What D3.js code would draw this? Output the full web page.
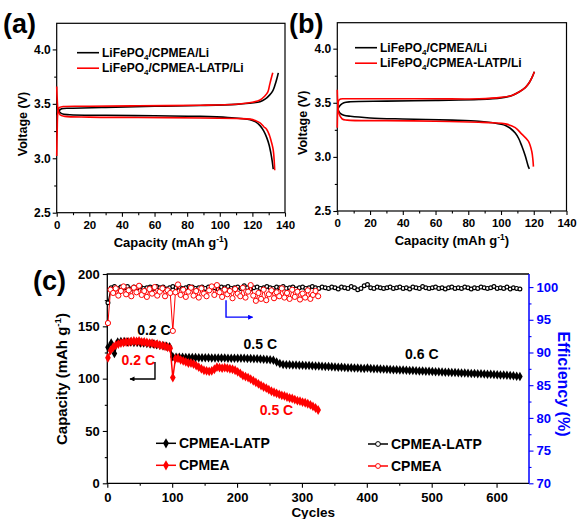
<!DOCTYPE html>
<html>
<head>
<meta charset="utf-8">
<script src="https://cdn.jsdelivr.net/npm/d3@7"></script>
<style>
body { margin: 0; background: #fff; }
svg text { font-family: "Liberation Sans", Arial, sans-serif; font-weight: bold; }
</style>
</head>
<body>
<div id="chart"></div>
<script>
// ---- panel (a): charge / discharge curves, [capacity, voltage]
const aBlackCharge = [[0,3.40],[1,3.43],[3,3.455],[10,3.46],[30,3.468],[60,3.478],[88,3.485],[110,3.495],[118,3.505],[124.7,3.52],[128,3.545],[130.5,3.58],[132.5,3.62],[133.8,3.67],[135,3.73],[135.9,3.785]];
const aRedCharge = [[0,3.02],[0.3,3.25],[0.7,3.42],[1.5,3.465],[4,3.475],[20,3.478],[50,3.482],[88,3.487],[110,3.497],[120,3.515],[124.7,3.536],[127.5,3.57],[129.5,3.61],[130.5,3.67],[131.5,3.73],[132.5,3.785]];
const aBlackDischarge = [[0,3.48],[1,3.44],[3,3.41],[8,3.40],[30,3.395],[60,3.39],[88,3.385],[105,3.375],[118.6,3.355],[122,3.335],[124.7,3.30],[127,3.25],[128.8,3.19],[130.3,3.12],[131.3,3.05],[132.2,2.97],[132.8,2.90]];
const aRedDischarge = [[0,3.66],[0.3,3.55],[0.8,3.45],[2,3.40],[5,3.385],[20,3.378],[50,3.375],[88,3.37],[110,3.365],[118.6,3.36],[122,3.345],[124.7,3.325],[127,3.29],[128.8,3.265],[130.5,3.21],[131.3,3.17],[132.5,3.10],[133,3.05],[133.4,2.97],[133.7,2.89]];

// ---- panel (b)
const bBlackCharge = [[0.3,3.44],[1,3.46],[2,3.48],[4,3.50],[8,3.509],[30,3.515],[60,3.522],[86.5,3.53],[100,3.545],[106.7,3.568],[111,3.60],[114.8,3.64],[117,3.68],[118.8,3.73],[120.4,3.787]];
const bRedCharge = [[0,3.27],[0.3,3.45],[0.8,3.52],[2,3.535],[5,3.537],[30,3.537],[60,3.537],[86.5,3.537],[100,3.55],[106.7,3.568],[111,3.60],[114.8,3.64],[117,3.68],[118.8,3.73],[120.4,3.787]];
const bBlackDischarge = [[0.3,3.44],[1,3.42],[2,3.40],[4,3.385],[8,3.375],[20,3.36],[40,3.35],[70,3.34],[86.5,3.33],[95,3.315],[102.7,3.29],[106,3.26],[108.7,3.22],[110.8,3.17],[112.7,3.10],[114.8,3.01],[116.7,2.91],[117.3,2.89]];
const bRedDischarge = [[0,3.62],[0.3,3.50],[1,3.40],[3,3.35],[6,3.34],[30,3.335],[60,3.33],[86.5,3.32],[95,3.315],[102.7,3.305],[108.7,3.27],[112.7,3.21],[116.7,3.145],[118.8,3.05],[119.5,2.97],[119.8,2.91]];

// ---- panel (c): cycling, values every capStep / effStep cycles starting at cycle 1
const latpCapStep = 5;
const latpCapacity = [
  130.0,134.0,124.0,135.0,135.5,135.5,135.0,135.0,134.5,134.5,
  134.0,134.0,133.5,133.0,133.0,132.5,132.0,131.5,131.0,130.5,
  121.0,120.5,120.5,120.5,120.3,120.3,120.2,120.2,120.0,120.0,
  120.0,120.0,119.8,119.8,119.8,119.7,119.7,119.6,119.6,119.5,
  119.5,119.4,119.4,119.3,119.2,119.1,119.0,118.8,118.6,118.4,
  118.0,117.5,116.0,114.5,113.5,113.3,113.2,113.1,113.0,112.9,
  112.8,112.6,112.5,112.3,112.2,112.0,111.8,111.7,111.5,111.3,
  111.2,111.0,110.9,110.7,110.5,110.4,110.2,110.1,109.9,109.8,
  110.2,109.7,109.5,109.4,109.2,109.1,108.9,108.8,108.6,108.5,
  108.3,108.2,108.0,107.9,107.7,107.6,107.4,107.3,107.1,107.0,
  106.8,106.7,106.5,106.4,106.2,106.1,105.9,105.8,105.6,105.5,
  105.3,105.2,105.0,104.9,104.7,104.6,104.4,104.3,104.1,104.0,
  103.8,103.6,103.4,103.2,103.0,102.7,102.4,102.1
];
const cpmeaCapStep = 4;
const cpmeaCapacity = [
  120.0,127.0,130.0,132.0,133.0,134.0,134.5,135.0,135.0,135.5,
  136.0,135.5,136.0,135.0,135.0,134.5,134.0,134.0,133.0,133.0,
  132.0,131.5,131.0,130.0,129.0,101.0,119.0,119.5,118.0,117.0,
  116.0,115.0,115.0,114.0,112.5,111.0,109.5,108.0,107.5,107.0,
  107.5,109.0,111.0,110.5,110.0,110.5,110.0,109.5,109.0,108.0,
  106.5,105.0,103.0,102.0,101.0,99.5,98.0,96.5,95.0,93.5,
  92.0,91.0,89.5,88.0,87.0,86.0,85.0,84.0,83.5,82.5,
  81.5,81.0,80.0,79.0,78.5,77.5,77.0,76.0,75.0,73.5,
  72.0,70.0
];
const latpEffStep = 5;
const latpEfficiency = [
  97.6,99.9,100.1,99.8,100.0,99.9,100.1,99.7,100.0,99.9,
  100.1,99.8,99.9,100.0,99.8,100.1,99.9,100.0,99.7,99.9,
  100.1,99.9,100.0,99.8,99.9,100.1,100.0,99.8,99.9,100.0,
  99.8,100.0,100.1,99.9,99.7,100.0,99.9,100.1,99.8,99.9,
  100.0,99.8,100.2,99.9,99.7,99.9,100.0,99.8,99.9,100.1,
  99.9,99.8,100.0,99.9,100.1,99.8,99.9,100.0,99.7,99.9,
  100.0,99.8,99.9,100.1,99.9,99.8,100.0,99.9,99.8,100.0,
  99.9,99.7,100.0,99.9,99.8,100.1,99.9,99.6,99.8,100.2,
  100.4,99.9,99.8,100.0,99.9,99.8,99.9,100.0,99.8,99.9,
  100.0,99.8,99.9,99.7,100.0,99.9,99.8,100.1,99.9,99.8,
  99.9,100.0,99.8,99.9,99.7,99.9,100.0,99.8,99.9,99.8,
  100.0,99.9,99.7,99.9,99.8,100.0,99.9,99.8,99.9,100.1,
  99.8,99.9,99.8,100.0,99.7,99.9,99.8,99.7
];
const cpmeaEffStep = 4;
const cpmeaEfficiency = [
  94.5,99.6,99.1,99.8,98.7,99.4,100.1,98.9,99.5,98.6,
  99.9,99.2,100.2,98.8,99.4,98.5,99.7,99.0,100.0,98.7,
  99.3,99.8,98.6,99.5,99.1,93.3,99.2,100.4,98.8,99.6,
  98.5,99.3,99.9,98.7,99.4,98.4,99.8,99.0,98.6,99.5,
  100.1,98.8,100.3,99.2,98.5,99.6,98.9,99.4,98.3,99.7,
  99.0,98.6,99.9,98.4,99.3,100.3,98.7,97.9,99.1,98.2,
  99.6,98.0,98.9,99.5,98.3,99.2,98.6,99.8,98.4,99.1,
  98.2,99.6,98.5,99.3,98.1,99.0,98.4,99.5,98.2,98.8,
  99.4,98.6
];

const capTicks = [0, 50, 100, 150, 200];
const effTicks = [70, 75, 80, 85, 90, 95, 100];
const cycleTicks = [0, 100, 200, 300, 400, 500, 600];
const voltTicks = [2.5, 3.0, 3.5, 4.0];
const capacityTicks = [0, 20, 40, 60, 80, 100, 120, 140];

const width = 577;
const height = 519;
const RED = '#ff0000';
const BLUE = '#0000ff';

const svg = d3.select('#chart')
    .append('svg')
    .attr('width', width)
    .attr('height', height);

svg.append('rect').attr('width', width).attr('height', height).attr('fill', '#fff');

const defs = svg.append('defs');
[['arrowK', '#000'], ['arrowB', BLUE]].forEach(([id, c]) => {
    defs.append('marker')
        .attr('id', id)
        .attr('viewBox', '0 0 10 10')
        .attr('refX', 9).attr('refY', 5)
        .attr('markerWidth', 7).attr('markerHeight', 5)
        .attr('markerUnits', 'userSpaceOnUse')
        .attr('orient', 'auto')
        .append('path')
        .attr('d', 'M0,0 L10,5 L0,10 Z')
        .attr('fill', c);
});

function styleAxis(g, size, color) {
    g.select('.domain').remove();
    g.attr('font-size', size).attr('fill', color || '#000');
    g.selectAll('line').attr('stroke', color || '#000').attr('stroke-width', 1.1);
    g.selectAll('text').attr('fill', color || '#000');
}

function addLegendText(sel, x, y, middle) {
    const t = sel.append('text').attr('x', x).attr('y', y).attr('font-size', 12);
    t.append('tspan').text('LiFePO');
    t.append('tspan').text('4').attr('font-size', 8).attr('dy', 3);
    t.append('tspan').text(middle).attr('dy', -3);
    return t;
}

function capacityLabel(sel, x, y, size, rotate) {
    const t = sel.append('text')
        .attr('text-anchor', 'middle')
        .attr('font-size', size)
        .attr('transform', `translate(${x},${y})` + (rotate ? ' rotate(-90)' : ''));
    t.append('tspan').text('Capacity (mAh g');
    t.append('tspan').text('-1').attr('font-size', size * 0.65).attr('dy', -size * 0.4);
    t.append('tspan').text(')').attr('dy', size * 0.4);
}

function voltagePanel(p) {
    const x = d3.scaleLinear().domain([0, 140]).range([p.left, p.right]);
    const y = d3.scaleLinear().domain([2.5, 4.24]).range([p.bottom, p.top]);
    const g = svg.append('g');

    g.append('g').attr('transform', `translate(0,${p.bottom})`)
        .call(d3.axisBottom(x).tickValues(d3.range(10, 140, 20)).tickSize(2.5).tickFormat(''))
        .call(a => styleAxis(a, 12));
    g.append('g').attr('transform', `translate(0,${p.bottom})`)
        .call(d3.axisBottom(x).tickValues(capacityTicks).tickSize(4).tickPadding(4))
        .call(a => styleAxis(a, 11.5));
    g.append('g').attr('transform', `translate(${p.left},0)`)
        .call(d3.axisLeft(y).tickValues([2.75, 3.25, 3.75]).tickSize(2.5).tickFormat(''))
        .call(a => styleAxis(a, 12));
    g.append('g').attr('transform', `translate(${p.left},0)`)
        .call(d3.axisLeft(y).tickValues(voltTicks).tickSize(4).tickPadding(2).tickFormat(d3.format('.1f')))
        .call(a => styleAxis(a, 12));

    g.append('rect')
        .attr('x', p.left).attr('y', p.top)
        .attr('width', p.right - p.left).attr('height', p.bottom - p.top)
        .attr('fill', 'none').attr('stroke', '#000').attr('stroke-width', 1.2);

    const line = d3.line()
        .x(d => x(d[0]))
        .y(d => y(d[1]))
        .curve(d3.curveCatmullRom.alpha(0.5));

    p.curves.forEach(c => {
        g.append('path').attr('d', line(c.data))
            .attr('fill', 'none').attr('stroke', c.color).attr('stroke-width', 1.6);
    });

    // legend
    g.append('line').attr('x1', p.legX).attr('x2', p.legX + 22).attr('y1', p.legY).attr('y2', p.legY)
        .attr('stroke', '#000').attr('stroke-width', 1.6);
    addLegendText(g, p.legX + 25, p.legY + 4, '/CPMEA/Li');
    g.append('line').attr('x1', p.legX).attr('x2', p.legX + 22).attr('y1', p.legY + 15.5).attr('y2', p.legY + 15.5)
        .attr('stroke', RED).attr('stroke-width', 1.6);
    addLegendText(g, p.legX + 25, p.legY + 19.5, '/CPMEA-LATP/Li');

    g.append('text').attr('text-anchor', 'middle').attr('font-size', 12.5)
        .attr('transform', `translate(${p.left - 30},${(p.top + p.bottom) / 2 + 6}) rotate(-90)`)
        .text('Voltage (V)');
    capacityLabel(g, (p.left + p.right) / 2, p.bottom + 34, 13, false);

    g.append('text').attr('x', p.tagX).attr('y', 33).attr('font-size', 27).text(p.tag);
}

voltagePanel({
    left: 56.7, right: 285, top: 23.3, bottom: 212.7,
    legX: 77, legY: 52.7, tag: '(a)', tagX: 3,
    curves: [
        {data: aBlackCharge, color: '#000'},
        {data: aBlackDischarge, color: '#000'},
        {data: aRedCharge, color: RED},
        {data: aRedDischarge, color: RED}
    ]
});

voltagePanel({
    left: 337.3, right: 566.5, top: 22.7, bottom: 211,
    legX: 355, legY: 47.7, tag: '(b)', tagX: 289,
    curves: [
        {data: bBlackCharge, color: '#000'},
        {data: bBlackDischarge, color: '#000'},
        {data: bRedCharge, color: RED},
        {data: bRedDischarge, color: RED}
    ]
});

// ---- panel (c)
const cL = 107.3, cR = 529, cT = 274, cB = 483.3;
const xc = d3.scaleLinear().domain([0, 650]).range([cL, cR]);
const yCap = d3.scaleLinear().domain([0, 200]).range([cB, cT]);
const yEff = d3.scaleLinear().domain([70, 102]).range([cB, cT]);

const gc = svg.append('g');

gc.append('g').attr('transform', `translate(0,${cB})`)
    .call(d3.axisBottom(xc).tickValues(d3.range(50, 650, 100)).tickSize(2.5).tickFormat(''))
    .call(a => styleAxis(a, 13));
gc.append('g').attr('transform', `translate(0,${cB})`)
    .call(d3.axisBottom(xc).tickValues(cycleTicks).tickSize(4.5).tickPadding(5))
    .call(a => styleAxis(a, 13));
gc.append('g').attr('transform', `translate(${cL},0)`)
    .call(d3.axisLeft(yCap).tickValues([25, 75, 125, 175]).tickSize(2.5).tickFormat(''))
    .call(a => styleAxis(a, 13));
gc.append('g').attr('transform', `translate(${cL},0)`)
    .call(d3.axisLeft(yCap).tickValues(capTicks).tickSize(4.5).tickPadding(3))
    .call(a => styleAxis(a, 13));
gc.append('g').attr('transform', `translate(${cR},0)`)
    .call(d3.axisRight(yEff).tickValues([72.5, 77.5, 82.5, 87.5, 92.5, 97.5]).tickSize(2.5).tickFormat(''))
    .call(a => styleAxis(a, 13, BLUE));
gc.append('g').attr('transform', `translate(${cR},0)`)
    .call(d3.axisRight(yEff).tickValues(effTicks).tickSize(4.5).tickPadding(3))
    .call(a => styleAxis(a, 13, BLUE));

// frame: black left/top/bottom, blue right
gc.append('path').attr('d', `M${cR},${cT} H${cL} V${cB} H${cR}`)
    .attr('fill', 'none').attr('stroke', '#000').attr('stroke-width', 1.3);
gc.append('line').attr('x1', cR).attr('x2', cR).attr('y1', cT).attr('y2', cB)
    .attr('stroke', BLUE).attr('stroke-width', 1.5);

function series(values, step, yScale) {
    return values.map((v, i) => ({cycle: 1 + i * step, value: v, y: yScale}));
}

const latpEff = series(latpEfficiency, latpEffStep, yEff);
const cpmeaEff = series(cpmeaEfficiency, cpmeaEffStep, yEff);
const latpCap = series(latpCapacity, latpCapStep, yCap);
const cpmeaCap = series(cpmeaCapacity, cpmeaCapStep, yCap);

const seriesLine = d3.line().x(d => xc(d.cycle)).y(d => d.y(d.value));

function drawCircles(data, color, r, lw, sw) {
    gc.append('path').attr('d', seriesLine(data))
        .attr('fill', 'none').attr('stroke', color).attr('stroke-width', lw);
    gc.append('g').selectAll('circle')
        .data(data)
        .enter()
        .append('circle')
        .attr('cx', d => xc(d.cycle))
        .attr('cy', d => d.y(d.value))
        .attr('r', r)
        .attr('fill', '#fff')
        .attr('stroke', color)
        .attr('stroke-width', sw);
}

function drawDiamonds(data, color, size) {
    gc.append('path').attr('d', seriesLine(data))
        .attr('fill', 'none').attr('stroke', color).attr('stroke-width', 1.5);
    gc.append('g').selectAll('path')
        .data(data)
        .enter()
        .append('path')
        .attr('d', d3.symbol(d3.symbolDiamond, size))
        .attr('transform', d => `translate(${xc(d.cycle)},${d.y(d.value)})`)
        .attr('fill', color);
}

drawCircles(latpEff, '#000', 1.9, 1.1, 1.2);
drawCircles(cpmeaEff, RED, 2.6, 1, 1);
drawDiamonds(latpCap, '#000', 26);
drawDiamonds(cpmeaCap, RED, 28);

// rate labels, placed in data coordinates
const rateLabels = [
    {text: '0.2 C', cycle: 46, cap: 141.8, color: '#000'},
    {text: '0.2 C', cycle: 22, cap: 113, color: RED},
    {text: '0.5 C', cycle: 210, cap: 128.3, color: '#000'},
    {text: '0.5 C', cycle: 235, cap: 65.3, color: RED},
    {text: '0.6 C', cycle: 459, cap: 118.8, color: '#000'}
];
gc.append('g').selectAll('text')
    .data(rateLabels)
    .enter()
    .append('text')
    .attr('x', d => xc(d.cycle))
    .attr('y', d => yCap(d.cap))
    .attr('font-size', 14)
    .attr('fill', d => d.color)
    .text(d => d.text);

// axis arrows
gc.append('path')
    .attr('d', `M${xc(73.5)},${yCap(115.9)} V${yCap(99.7)} H${xc(35)}`)
    .attr('fill', 'none').attr('stroke', '#000').attr('stroke-width', 1.4)
    .attr('marker-end', 'url(#arrowK)');
gc.append('path')
    .attr('d', `M${xc(183)},${yEff(98.0)} V${yEff(95.4)} H${xc(224)}`)
    .attr('fill', 'none').attr('stroke', BLUE).attr('stroke-width', 1.4)
    .attr('marker-end', 'url(#arrowB)');

// legends
function legendItem(x, y, color, label, filled) {
    gc.append('line').attr('x1', x).attr('x2', x + 20).attr('y1', y).attr('y2', y)
        .attr('stroke', color).attr('stroke-width', 1.5);
    if (filled) {
        gc.append('path').attr('d', d3.symbol(d3.symbolDiamond, 30))
            .attr('transform', `translate(${x + 10},${y})`).attr('fill', color);
    } else {
        gc.append('circle').attr('cx', x + 10).attr('cy', y).attr('r', 2.4)
            .attr('fill', '#fff').attr('stroke', color).attr('stroke-width', 1);
    }
    gc.append('text').attr('x', x + 23).attr('y', y + 5).attr('font-size', 14).text(label);
}
legendItem(156, 443.3, '#000', 'CPMEA-LATP', true);
legendItem(156, 465.3, RED, 'CPMEA', true);
legendItem(368, 444, '#000', 'CPMEA-LATP', false);
legendItem(368, 466, RED, 'CPMEA', false);

capacityLabel(gc, 67, 379, 15, true);
gc.append('text').attr('x', (cL + cR) / 2 - 5).attr('y', 516.5).attr('text-anchor', 'middle')
    .attr('font-size', 13.5).text('Cycles');
gc.append('text').attr('text-anchor', 'middle').attr('font-size', 16).attr('fill', BLUE)
    .attr('transform', `translate(558,384) rotate(90)`)
    .text('Efficiency (%)');
gc.append('text').attr('x', 33).attr('y', 290).attr('font-size', 27).text('(c)');
</script>
</body>
</html>
